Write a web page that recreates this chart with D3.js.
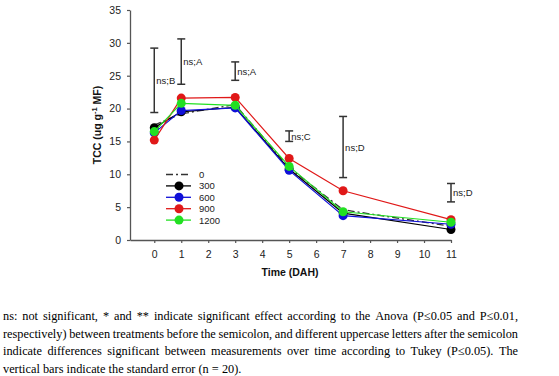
<!DOCTYPE html>
<html>
<head>
<meta charset="utf-8">
<script src="https://cdn.jsdelivr.net/npm/d3@7"></script>
<style>
  body { margin: 0; background: #fff; }
  svg { display: block; }
</style>
</head>
<body>
<script>
// days after harvest (x values)
var days = [0, 1, 3, 5, 7, 11];
var xTicks = [0, 1, 2, 3, 4, 5, 6, 7, 8, 9, 10, 11];
var yTicks = [0, 5, 10, 15, 20, 25, 30, 35];

// series, one array per treatment
var seriesNames = ["0", "300", "600", "900", "1200"];
var s0    = [17.5, 19.2, 20.6, 11.0, 4.6, 2.1];
var s300  = [17.1, 19.5, 20.2, 10.8, 4.1, 1.6];
var s600  = [16.3, 19.7, 20.1, 10.6, 3.7, 2.4];
var s900  = [15.2, 21.6, 21.7, 12.4, 7.5, 3.1];
var s1200 = [16.5, 20.8, 20.5, 11.2, 4.3, 2.7];

// standard error bars (low, high) and their labels
var errLow  = [19.4, 23.7, 24.3, 15.0, 9.5, 5.8];
var errHigh = [29.2, 30.6, 27.1, 16.6, 18.8, 8.6];
var errLabels = ["ns;B", "ns;A", "ns;A", "ns;C", "ns;D", "ns;D"];

var captionLines = [
  "ns: not significant, * and ** indicate significant effect according to the Anova (P\u22640.05 and P\u22640.01,",
  "respectively) between treatments before the semicolon, and different uppercase letters after the semicolon",
  "indicate differences significant between measurements over time according to Tukey (P\u22640.05). The",
  "vertical bars indicate the standard error (n = 20)."
];

var w = 559, h = 376;
var colors = ["#333", "#000", "#1010d8", "#e01818", "#22e022"];
var allSeries = [s0, s300, s600, s900, s1200];

var svg = d3.select("body").append("svg")
    .attr("width", w)
    .attr("height", h);

var xScale = d3.scaleLinear().domain([-0.9, 11]).range([130, 451]);
var yScale = d3.scaleLinear().domain([0, 35]).range([240, 10]);

// axes
var xAxis = d3.axisBottom(xScale).tickValues(xTicks).tickSize(3).tickSizeOuter(0);
var yAxis = d3.axisLeft(yScale).tickValues(yTicks).tickSize(3).tickSizeOuter(0);

var gx = svg.append("g")
    .attr("transform", "translate(0," + 240 + ")")
    .call(xAxis);
var gy = svg.append("g")
    .attr("transform", "translate(" + 130 + ",0)")
    .call(yAxis);

[gx, gy].forEach(function(g) {
  g.select(".domain").attr("stroke", "#555").attr("stroke-width", 1.3);
  g.selectAll(".tick line").attr("stroke", "#555").attr("stroke-width", 1.2);
  g.selectAll(".tick text")
    .attr("font-family", "Liberation Sans, Arial, sans-serif")
    .attr("font-size", "10.5px")
    .attr("fill", "#222");
});
gy.selectAll(".tick text").attr("x", -9);
gx.selectAll(".tick text").attr("y", 11);

// axis titles
svg.append("text")
    .attr("text-anchor", "middle")
    .attr("x", 290)
    .attr("y", 276)
    .attr("font-family", "Liberation Sans, Arial, sans-serif")
    .attr("font-size", "10.5px")
    .attr("font-weight", "bold")
    .attr("fill", "#111")
    .text("Time (DAH)");

var yt = svg.append("text")
    .attr("text-anchor", "middle")
    .attr("transform", "translate(101,125) rotate(-90)")
    .attr("font-family", "Liberation Sans, Arial, sans-serif")
    .attr("font-size", "10.5px")
    .attr("font-weight", "bold")
    .attr("fill", "#111");
yt.append("tspan").text("TCC (ug g");
yt.append("tspan").attr("dy", -4).attr("font-size", "7.5px").text("-1");
yt.append("tspan").attr("dy", 4).text(" MF)");

// error bars with labels
var eb = svg.selectAll(".err")
    .data(days.map(function(d, i) { return { x: d, lo: errLow[i], hi: errHigh[i], lab: errLabels[i] }; }))
    .enter().append("g").attr("class", "err");
eb.append("line")
    .attr("x1", function(d) { return xScale(d.x); })
    .attr("x2", function(d) { return xScale(d.x); })
    .attr("y1", function(d) { return yScale(d.lo); })
    .attr("y2", function(d) { return yScale(d.hi); })
    .attr("stroke", "#333").attr("stroke-width", 1.5);
eb.selectAll(".cap")
    .data(function(d) { return [{ x: d.x, y: d.lo }, { x: d.x, y: d.hi }]; })
    .enter().append("line")
    .attr("x1", function(d) { return xScale(d.x) - 4; })
    .attr("x2", function(d) { return xScale(d.x) + 4; })
    .attr("y1", function(d) { return yScale(d.y); })
    .attr("y2", function(d) { return yScale(d.y); })
    .attr("stroke", "#333").attr("stroke-width", 1.5);
eb.append("text")
    .attr("x", function(d) { return xScale(d.x) + 2; })
    .attr("y", function(d) { return yScale((d.lo + d.hi) / 2) + 3.5; })
    .attr("font-family", "Liberation Sans, Arial, sans-serif")
    .attr("font-size", "9.5px")
    .attr("fill", "#222")
    .text(function(d) { return d.lab; });

// lines and markers
var line = d3.line()
    .x(function(d) { return xScale(d[0]); })
    .y(function(d) { return yScale(d[1]); });

allSeries.forEach(function(vals, i) {
  var pts = days.map(function(d, j) { return [d, vals[j]]; });
  svg.append("path")
      .datum(pts)
      .attr("d", line)
      .attr("fill", "none")
      .attr("stroke", colors[i])
      .attr("stroke-width", i == 0 ? 1.3 : 1.2)
      .attr("stroke-dasharray", i == 0 ? "7,3,2,3" : null);
  if (i > 0) {
    svg.selectAll(".pt" + i)
        .data(pts)
        .enter().append("circle")
        .attr("cx", function(d) { return xScale(d[0]); })
        .attr("cy", function(d) { return yScale(d[1]); })
        .attr("r", 4.5)
        .attr("fill", colors[i]);
  }
});

// legend
var lg = svg.selectAll(".leg")
    .data(seriesNames)
    .enter().append("g")
    .attr("transform", function(d, i) { return "translate(0," + (174.5 + i * 11.4) + ")"; });
lg.append("line")
    .attr("x1", 166).attr("x2", 191)
    .attr("stroke", function(d, i) { return colors[i]; })
    .attr("stroke-width", 1.3)
    .attr("stroke-dasharray", function(d, i) { return i == 0 ? "7,3,2,3" : null; });
lg.filter(function(d, i) { return i > 0; }).append("circle")
    .attr("cx", 179).attr("r", 4.5)
    .attr("fill", function(d) { return colors[seriesNames.indexOf(d)]; });
lg.append("text")
    .attr("x", 199).attr("y", 3.5)
    .attr("font-family", "Liberation Sans, Arial, sans-serif")
    .attr("font-size", "9.5px")
    .attr("fill", "#222")
    .text(function(d) { return d; });

// caption, justified word by word
var capLeft = 3, capRight = 518;
captionLines.forEach(function(str, li) {
  var words = str.split(" ");
  var y = 316 + li * 17.5 + 4;
  var nodes = words.map(function(wd) {
    return svg.append("text")
        .attr("y", y)
        .attr("font-family", "Liberation Serif, Times New Roman, serif")
        .attr("font-size", "12.3px")
        .attr("fill", "#000")
        .text(wd);
  });
  var widths = nodes.map(function(n) { return n.node().getComputedTextLength(); });
  var total = d3.sum(widths);
  var last = li == captionLines.length - 1;
  var gap = last ? 3.1 : (capRight - capLeft - total) / (words.length - 1);
  var x = capLeft;
  nodes.forEach(function(n, k) {
    n.attr("x", x);
    x += widths[k] + gap;
  });
});
</script>
</body>
</html>
